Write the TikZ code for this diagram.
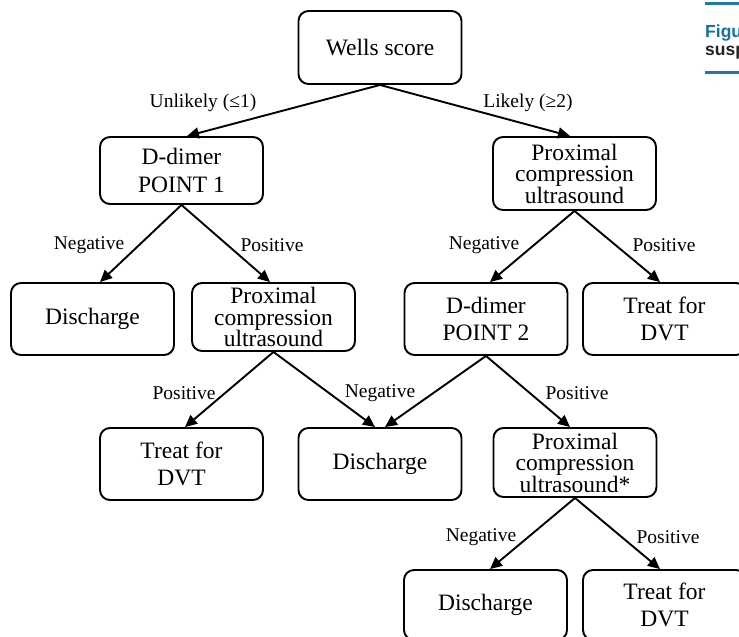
\documentclass[tikz,border=0pt]{standalone}
\usepackage{fontspec}
\setmainfont{Liberation Serif}
\newfontfamily\hdrfont{Liberation Sans}
\usetikzlibrary{arrows.meta}
\definecolor{hdrteal}{HTML}{1670A0}
\definecolor{hdrline}{HTML}{1F78AA}
\definecolor{hdrdark}{HTML}{222222}
\begin{document}
\begin{tikzpicture}[x=1pt,y=-1pt,
  box/.style={draw, line width=1.9pt, rounded corners=10pt, minimum width=163pt,
    align=center, inner sep=0pt, font=\fontsize{23.5}{27.5}\selectfont},
  box3/.style={box, font=\fontsize{23.5}{21.5}\selectfont},
  lbl/.style={font=\fontsize{19.5}{22}\selectfont, inner sep=0pt},
  hdr/.style={font=\hdrfont\bfseries\fontsize{17.5}{19}\selectfont, inner sep=0pt, anchor=base west},
  arr/.style={line width=1.9pt, -{Triangle[length=12pt,width=11pt]}}]
\useasboundingbox (0,0) rectangle (739,637);
\clip (0,0) rectangle (739,637);

% header fragment at top right
\coordinate (hl1a) at (705,3.5);
\coordinate (hl1b) at (745,3.5);
\coordinate (hl2a) at (705,72);
\coordinate (hl2b) at (745,72);
\draw[hdrline, line width=3pt] (hl1a) -- (hl1b);
\draw[hdrline, line width=3pt] (hl2a) -- (hl2b);
\node[hdr, text=hdrteal] (hfig) at (705,37) {Figu};
\node[hdr, text=hdrdark] (hsus) at (705,55) {susp};

% boxes
\node[box, minimum height=73pt] (wells) at (380,47.5) {Wells score};
\node[box, minimum height=67pt] (dd1) at (181.5,170.5) {D-dimer\\POINT 1};
\node[box3, minimum height=73pt] (cus1) at (574.5,173.5) {Proximal\\compression\\ultrasound};
\node[box, minimum height=72pt] (dis1) at (92.5,319) {Discharge};
\node[box3, minimum height=68pt] (cus2) at (273.5,317) {Proximal\\compression\\ultrasound};
\node[box, minimum height=72pt] (dd2) at (486,319) {D-dimer\\POINT 2};
\node[box, minimum height=72pt] (tr1) at (664.5,319) {Treat for\\DVT};
\node[box, minimum height=72pt] (tr2) at (181.5,464) {Treat for\\DVT};
\node[box, minimum height=72pt] (dis2) at (380,464) {Discharge};
\node[box3, minimum height=69pt] (cus3) at (575,462.5) {Proximal\\compression\\ultrasound*};
\node[box, minimum height=70pt] (dis3) at (485.5,605) {Discharge};
\node[box, minimum height=70pt] (tr3) at (664.5,605) {Treat for\\DVT};

% connectors
\draw[arr] (wells.south) -- ([xshift=5.5pt]dd1.north);
\draw[arr] (wells.south) -- ([xshift=-4.5pt]cus1.north);
\draw[arr] (dd1.south) -- ([xshift=7.5pt]dis1.north);
\draw[arr] (dd1.south) -- ([xshift=-3.5pt]cus2.north);
\draw[arr] (cus1.south) -- ([xshift=4pt]dd2.north);
\draw[arr] (cus1.south) -- ([xshift=-4.5pt]tr1.north);
\draw[arr] (cus2.south) -- ([xshift=3.5pt]tr2.north);
\draw[arr] (cus2.south) -- ([xshift=-5pt]dis2.north);
\draw[arr] (dd2.south) -- ([xshift=5pt]dis2.north);
\draw[arr] (dd2.south) -- ([xshift=-5pt]cus3.north);
\draw[arr] (cus3.south) -- ([xshift=4.5pt]dis3.north);
\draw[arr] (cus3.south) -- ([xshift=-4.5pt]tr3.north);

% labels
\node[lbl] (l1) at (203,103) {Unlikely (≤1)};
\node[lbl] (l2) at (528,103) {Likely (≥2)};
\node[lbl] (l3) at (89,245) {Negative};
\node[lbl] (l4) at (272,245) {Positive};
\node[lbl] (l5) at (484,245) {Negative};
\node[lbl] (l6) at (664,245) {Positive};
\node[lbl] (l7) at (184,393) {Positive};
\node[lbl] (l8) at (380,393) {Negative};
\node[lbl] (l9) at (577,393) {Positive};
\node[lbl] (l10) at (481,537) {Negative};
\node[lbl] (l11) at (668,537) {Positive};
\end{tikzpicture}
\end{document}
